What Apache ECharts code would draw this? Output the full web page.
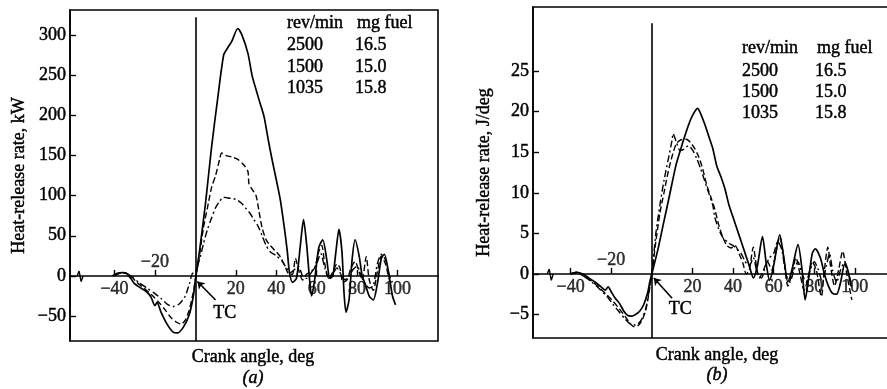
<!DOCTYPE html>
<html><head><meta charset="utf-8">
<script src="https://cdn.jsdelivr.net/npm/echarts@6/dist/echarts.min.js"></script>
<style>html,body{margin:0;padding:0;background:#fff}#c{width:887px;height:389px}</style>
</head><body><div id="c"></div>
<script>
// ---- data ----
const speeds = ['2500', '1500', '1035'];
const fuelMg = ['16.5', '15.0', '15.8'];
const xTickValues = [-40, -20, 20, 40, 60, 80, 100];
const xLabelsBelow = [-40, 20, 40, 60, 80, 100];
const xLabelsAbove = [-20];
const yTicksA = [-50, 0, 50, 100, 150, 200, 250, 300];
const yTicksB = [-5, 0, 5, 10, 15, 20, 25];

// Panel (a): heat-release rate, kW  [crank angle deg, kW]
const a2500 = [[-41,0],[-39,3],[-36,4],[-34,3],[-32,-3],[-30,-10],[-27,-15],[-24,-20],[-22,-26],[-20,-37],[-19,-33],[-17,-45],[-14,-60],[-11,-70],[-9,-71],[-6,-64],[-3,-48],[-1,-25],[0,-5],[2,30],[5,90],[8,160],[11,220],[14,275],[16,284],[18,292],[21,308],[23,300],[26,277],[28,250],[30,232],[32,215],[34,198],[36,170],[38,144],[40,120],[42,95],[44,60],[45.5,30],[46.5,5],[48,-8],[50,-3],[52,40],[53.5,70],[55,40],[56.5,-5],[57.5,-25],[59,-5],[61,35],[63,45],[65,20],[66.5,-3],[68,0],[69.5,30],[71,58],[72.5,30],[73.5,-20],[74.5,-45],[76,-30],[77.5,20],[79,45],[81,25],[82.5,0],[84,-10],[86,-25],[88,-30],[90,-10],[92,22],[93.5,27],[95.5,5],[97.5,-25],[99,-36]];
const a1500 = [[-40,0],[-38,3],[-35,4],[-32,0],[-29,-8],[-25,-16],[-21,-25],[-18,-33],[-15,-42],[-12,-52],[-9,-58],[-7,-60],[-5,-55],[-3,-42],[-1,-20],[0,-5],[2,25],[4,60],[6,85],[8,110],[10,125],[12,145],[13,153],[15,150],[18,148],[21,145],[24,138],[26,130],[26.5,115],[28,108],[30,100],[31.5,80],[33,60],[35,45],[37,38],[40,30],[42,24],[44,14],[46,3],[48,2],[49.5,22],[51,8],[53,-5],[55,2],[57,5],[59,10],[61,30],[62.5,38],[64,15],[66,-3],[68,5],[70,15],[71.5,10],[73,-8],[75,-5],[77,10],[79,18],[81,5],[82.5,-5],[84.5,24],[86,-5],[88,-18],[90,5],[92,25],[94,15],[96,-5],[97.5,-10]];
const a1035 = [[-40,0],[-38,3],[-35,4],[-32,0],[-28,-8],[-24,-15],[-20,-22],[-17,-28],[-14,-35],[-11,-38],[-8,-35],[-5,-25],[-3,-10],[-1.5,3],[0,5],[2,20],[4,40],[6,58],[8,72],[10,85],[12,93],[14,98],[16,97],[19,96],[21,94],[23,90],[25,84],[27,78],[29,70],[31,62],[33,50],[35,38],[37,30],[40,25],[43,18],[45,10],[47,4],[49,8],[51,12],[53,0],[55,-3],[57,3],[60,15],[62,28],[64,10],[66,-3],[68,2],[70,10],[72,2],[74,-5],[76,0],[78,8],[80,12],[82,0],[84,-10],[86,-15],[88,-12],[90,15],[92,27],[94,20],[96,0],[97.5,-8]];

// Panel (b): heat-release rate, J/deg
const b2500 = [[-40,0],[-37,0.2],[-34,0],[-31,-0.5],[-28,-1],[-25,-1.6],[-23,-2],[-21.5,-1.6],[-20,-2.2],[-18,-3],[-16,-3.6],[-14,-4.5],[-12,-5.1],[-10,-5.2],[-8,-5],[-6,-4.6],[-4,-3.8],[-2,-2.3],[-1,-1],[0,0],[3,3],[6,6.5],[9,10],[12,13.5],[15,16],[18,18.3],[20,19.5],[22.5,20.4],[24,19.8],[26,18.5],[28,17],[30,15.5],[32,13.3],[34,12],[36,10.5],[38,8.5],[40,7],[42,5.5],[44,4],[46,2.5],[48,1],[50,-0.5],[52,1],[54.5,4.6],[56.5,1],[58,-0.8],[60,1],[63,4.8],[65,2],[67,-1],[69,0.5],[72,3.6],[74,0.5],[75.5,-3.2],[77,-1],[79,2.5],[80.5,3.1],[83,2],[85,0],[87,-1.5],[89,-2.4],[91,-2.5],[93,-1],[95,1.2],[96.5,0.5],[98,-1.5]];
const b1500 = [[-40,0],[-37,0.2],[-34,-0.2],[-30,-0.8],[-26,-1.7],[-22,-2.6],[-19,-3.4],[-16,-4.3],[-13,-5.3],[-11,-6],[-9,-6.5],[-7,-6.4],[-5,-5.8],[-3,-4.5],[-1.5,-2.5],[0,0],[2,4],[4,7.5],[6,10],[8,12.5],[10,14.5],[12,16],[14,16.5],[17,16.6],[19,16.2],[21,15.5],[23,14.5],[25,13],[27,11],[29,9.5],[31,8],[33,6],[35,4.5],[37,3.5],[39,3.2],[41,3.5],[43,2.5],[45,1.2],[46.5,0],[48,0.5],[50,3.3],[51.5,1],[53,-0.5],[55,0.5],[57,1.5],[59,0.5],[61,2.5],[63,4.6],[65,2],[67,-1.5],[69,0],[71,2],[73,0],[75,-2],[77,-0.5],[79,1.5],[81,0.5],[83.5,-2.8],[85,0.5],[86.7,3.3],[88,1],[90,-1.5],[92,0.5],[94,2.8],[96,0],[98.5,-3.2]];
const b1035 = [[-40,0],[-37,0.2],[-34,-0.2],[-30,-0.9],[-26,-1.8],[-22,-2.8],[-19,-3.8],[-16,-4.7],[-13,-5.6],[-11,-6.1],[-9,-6.3],[-7,-6.2],[-5,-5.6],[-3,-4.3],[-1.5,-2.3],[0,0],[2,5],[4,8.5],[6,11.5],[8,14],[10,16.5],[10.5,17.3],[12,16.3],[14,15.2],[16,15.4],[18,15.8],[20,15.3],[22,14.3],[24,13],[26,11.5],[28,10],[30,8.5],[31,7],[33,5.5],[35,4.5],[38,3.8],[41,3.3],[44,2.5],[46,1.5],[48,1],[50,2],[52,0],[54,-0.5],[56,1],[58,2],[60,2.5],[62,4],[64,3],[66,0],[68,-1],[70,0.5],[72,1.5],[74,0],[76,-1],[78,0.5],[80,1.5],[82,0.5],[84,-1],[86,1],[87.5,2.5],[89,0.5],[91,-1],[93,0.5],[95,1.5],[97,0],[98.5,-1.5]];

// axis-break zig-zags on the zero line
const breakA = [[-58.5,0],[-57.5,6],[-56.5,-7],[-55.5,0]];
const breakB = [[-51.5,0],[-50.5,0.6],[-49.5,-0.8],[-48.5,0]];

// ---- chart ----
const FONT = 'Liberation Serif';
const INK = '#000';
const FS = 18;
const HALO = { textBorderColor: '#000', textBorderWidth: 0.45 };
const fmt = v => (v < 0 ? '\u2212' + Math.abs(v) : String(v));

function xAxisFor(gridIndex, min, max) {
  return {
    type: 'value', gridIndex, min, max, position: 'bottom',
    axisLine: { onZero: true, lineStyle: { color: INK, width: 1.6 } },
    axisTick: { inside: true, length: 6, customValues: xTickValues, lineStyle: { color: INK, width: 1.4 } },
    axisLabel: { show: false },
    splitLine: { show: false }
  };
}
function yAxisFor(gridIndex, min, max, ticks, name, gap) {
  return {
    type: 'value', gridIndex, min, max,
    name, nameLocation: 'middle', nameRotate: 90, nameGap: gap,
    nameTextStyle: Object.assign({ color: INK, fontFamily: FONT, fontSize: 18 }, HALO),
    axisLine: { show: true, onZero: false, lineStyle: { color: INK, width: 1.6 } },
    axisTick: { inside: true, length: 6, customValues: ticks, lineStyle: { color: INK, width: 1.4 } },
    axisLabel: Object.assign({ customValues: ticks, formatter: fmt, margin: 4, color: INK, fontFamily: FONT, fontSize: FS }, HALO),
    splitLine: { show: false }
  };
}
function curve(data, xi, yi, type, width) {
  return {
    type: 'line', data, xAxisIndex: xi, yAxisIndex: yi, showSymbol: false, smooth: 0.25,
    lineStyle: { color: INK, width, type }, silent: true, z: 3
  };
}
function tickLabels(values, xi, yi, pos, dist) {
  return {
    type: 'scatter', xAxisIndex: xi, yAxisIndex: yi, silent: true, symbolSize: 0,
    data: values.map(v => [v, 0]),
    label: Object.assign({ show: true, position: pos, distance: dist, formatter: p => fmt(p.value[0]),
             color: INK, fontFamily: FONT, fontSize: FS }, HALO)
  };
}
function tcMarks(xi, yi, yTop, yBot, arrowFrom, arrowTo, labelAt) {
  return {
    type: 'line', data: [], xAxisIndex: xi, yAxisIndex: yi, silent: true,
    markLine: {
      silent: true, animation: false, symbol: ['none', 'none'],
      label: { show: false },
      lineStyle: { color: INK, type: 'solid', width: 1.6 },
      data: [
        [{ coord: [0, yBot] }, { coord: [0, yTop] }],
        [{ coord: arrowFrom, symbol: 'none' }, { coord: arrowTo, symbol: 'arrow', symbolSize: 7 }]
      ]
    },
    markPoint: {
      silent: true, animation: false, symbol: 'circle', symbolSize: 0,
      label: Object.assign({ show: true, formatter: 'TC', position: 'inside', color: INK, fontFamily: FONT, fontSize: FS }, HALO),
      data: [{ coord: labelAt }]
    }
  };
}

const gridStyle = { show: true, borderColor: INK, borderWidth: 1.6, backgroundColor: 'transparent', containLabel: false, outerBoundsMode: 'none' };
const gA = Object.assign({}, gridStyle, { left: 70, top: 10, width: 368, height: 331 });
const gB = Object.assign({}, gridStyle, { left: 533, top: 7, width: 357, height: 331 });

function textEl(x, y, text, extra) {
  return { type: 'text', x, y, style: Object.assign({ text, fill: INK, stroke: INK, lineWidth: 0.45, font: FS + 'px "' + FONT + '"', textAlign: 'left', textVerticalAlign: 'middle' }, extra || {}) };
}
const legendRowsY_A = [45, 67, 88];
const legendRowsY_B = [71, 92, 113];
const graphics = [
  textEl(287, 23, 'rev/min'), textEl(357, 23, 'mg fuel'),
  textEl(742, 48, 'rev/min'), textEl(817, 48, 'mg fuel'),
  textEl(253, 357, 'Crank angle, deg', { textAlign: 'center' }),
  textEl(253, 378, '(a)', { textAlign: 'center', font: 'italic ' + FS + 'px "' + FONT + '"' }),
  textEl(717, 355, 'Crank angle, deg', { textAlign: 'center' }),
  textEl(717, 375, '(b)', { textAlign: 'center', font: 'italic ' + FS + 'px "' + FONT + '"' })
];
speeds.forEach((s, i) => {
  graphics.push(textEl(287, legendRowsY_A[i], s), textEl(355, legendRowsY_A[i], fuelMg[i]));
  graphics.push(textEl(742, legendRowsY_B[i], s), textEl(815, legendRowsY_B[i], fuelMg[i]));
});

const chart = echarts.init(document.getElementById('c'), null, { renderer: 'canvas' });
chart.setOption({
  animation: false,
  backgroundColor: '#fff',
  grid: [gA, gB],
  xAxis: [xAxisFor(0, -62, 120), xAxisFor(1, -58.5, 117.3)],
  yAxis: [
    yAxisFor(0, -81, 331, yTicksA, 'Heat-release rate, kW', 42),
    yAxisFor(1, -7.9, 32.9, yTicksB, 'Heat-release rate, J/deg', 40)
  ],
  series: [
    curve(a2500, 0, 0, 'solid', 1.7),
    curve(a1500, 0, 0, [6, 3], 1.4),
    curve(a1035, 0, 0, [7, 3, 2, 3], 1.4),
    Object.assign(curve(breakA, 0, 0, 'solid', 1.4), { smooth: false }),
    tickLabels(xLabelsBelow, 0, 0, 'bottom', 4),
    tickLabels(xLabelsAbove, 0, 0, 'top', 5),
    curve(b2500, 1, 1, 'solid', 1.7),
    curve(b1500, 1, 1, [6, 3], 1.4),
    curve(b1035, 1, 1, [7, 3, 2, 3], 1.4),
    Object.assign(curve(breakB, 1, 1, 'solid', 1.4), { smooth: false }),
    tickLabels(xLabelsBelow, 1, 1, 'bottom', 4),
    tickLabels(xLabelsAbove, 1, 1, 'top', 5),
    tcMarks(0, 0, 322, -81, [10, -30], [1, -7], [14.5, -46]),
    tcMarks(1, 1, 30.9, -7.9, [10, -3], [1, -0.5], [14, -4.3])
  ],
  graphic: graphics
});
</script></body></html>
